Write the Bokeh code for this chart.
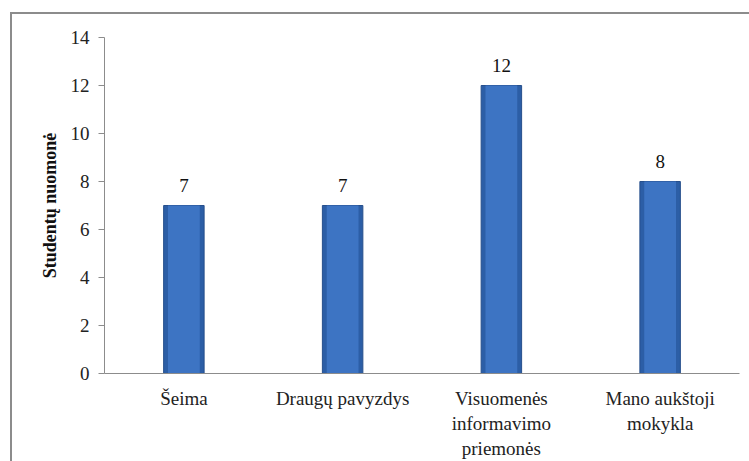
from bokeh.plotting import figure
from bokeh.models import ColumnDataSource, LabelSet, Range1d, FactorRange, FixedTicker
from bokeh.embed import file_html
from bokeh.resources import INLINE

categories = ["Šeima", "Draugų pavyzdys", "Visuomenės\ninformavimo\npriemonės", "Mano aukštoji\nmokykla"]
values = [7, 7, 12, 8]
y_ticks = [0, 2, 4, 6, 8, 10, 12, 14]
y_title = "Studentų nuomonė"

FONT = "Liberation Serif"

src = ColumnDataSource(dict(cat=categories, val=values, lab=[str(v) for v in values]))

frame_css = ("linear-gradient(#8c8c8c, #8c8c8c) 10px 12px / 739px 2px no-repeat, "
             "linear-gradient(#8c8c8c, #8c8c8c) 10px 12px / 2px 449px no-repeat, #ffffff")

p = figure(width=749, height=461, x_range=FactorRange(*categories, range_padding=0),
           y_range=Range1d(0, 14), output_backend="svg", toolbar_location=None,
           min_border_left=104, min_border_right=10, min_border_top=37, min_border_bottom=88,
           styles={"background": frame_css})
p.outline_line_color = None
p.grid.visible = False
p.background_fill_color = "white"
p.border_fill_color = None

p.vbar(x="cat", top="val", width=0.255, source=src, fill_color="#2c5ea6", line_color="#264f8c", line_width=1)
p.vbar(x="cat", top="val", width=0.2, source=src, fill_color="#3d74c3", line_color=None)

labels = LabelSet(x="cat", y="val", text="lab", source=src, y_offset=14, text_align="center",
                  text_baseline="bottom", text_font=FONT, text_font_size="19px", text_color="#111111")
p.add_layout(labels)

p.yaxis.ticker = FixedTicker(ticks=y_ticks)
p.yaxis.axis_label = y_title
p.yaxis.axis_label_text_font = FONT
p.yaxis.axis_label_text_font_style = "bold"
p.yaxis.axis_label_text_font_size = "18px"
p.yaxis.axis_label_text_color = "#111111"
p.yaxis.axis_label_standoff = 8
p.yaxis.major_label_text_font = FONT
p.yaxis.major_label_text_font_size = "19px"
p.yaxis.major_label_text_color = "#222222"
p.yaxis.major_label_standoff = 9
p.yaxis.axis_line_color = "#8c8c8c"
p.yaxis.major_tick_line_color = "#8c8c8c"
p.yaxis.major_tick_out = 6
p.yaxis.major_tick_in = 0
p.yaxis.minor_tick_line_color = None

p.xaxis.axis_line_color = "#8c8c8c"
p.xaxis.major_tick_line_color = None
p.xaxis.minor_tick_line_color = None
p.xaxis.major_label_text_font = FONT
p.xaxis.major_label_text_font_size = "19px"
p.xaxis.major_label_text_color = "#222222"
p.xaxis.major_label_standoff = 8

open("out.html", "w").write(file_html(p, INLINE))
